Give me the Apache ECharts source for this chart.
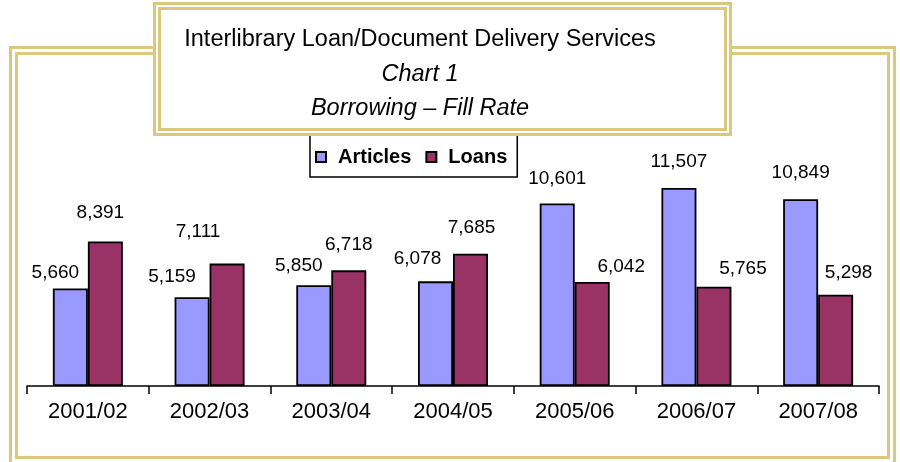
<!DOCTYPE html>
<html>
<head>
<meta charset="utf-8">
<script src="https://cdn.jsdelivr.net/npm/echarts@6/dist/echarts.min.js"></script>
<style>
  html, body { margin: 0; padding: 0; background: #fff; }
  #main { width: 900px; height: 462px; }
</style>
</head>
<body>
<div id="main"></div>
<script>
const years = ["2001/02", "2002/03", "2003/04", "2004/05", "2005/06", "2006/07", "2007/08"];
const articles = [5660, 5159, 5850, 6078, 10601, 11507, 10849];
const loans = [8391, 7111, 6718, 7685, 6042, 5765, 5298];

// the original labels were dragged around by hand, so nudge each one
const articlesNudge = [[-15, -6], [-20, -10], [-15, -10], [-18, -13], [0, -15], [0, -16], [0, -16]];
const loansNudge = [[-5, -19], [-29, -22], [0, -16], [1, -16], [29, -5], [29, -8], [13, -12]];

const gold = "#DCC87C";
const font = "'Liberation Sans', Arial, sans-serif";

const chart = echarts.init(document.getElementById("main"));

const withLabels = (values, nudge) =>
  values.map((v, i) => ({ value: v, label: { offset: nudge[i] } }));

const barLabel = {
  show: true,
  position: "top",
  distance: 0,
  color: "#000",
  fontSize: 19,
  lineHeight: 20,
  fontFamily: font,
  formatter: (p) => p.value.toLocaleString("en-US"),
};

const option = {
  backgroundColor: "#fff",
  animation: false,
  title: {
    text: "{a|Interlibrary Loan/Document Delivery Services}\n{b|Chart 1}\n{b|Borrowing – Fill Rate}",
    left: 420,
    top: 23,
    textAlign: "center",
    padding: 0,
    z: 6,
    textStyle: {
      fontWeight: "normal",
      rich: {
        a: { fontSize: 23.5, fontFamily: font, fontWeight: "normal", color: "#000", lineHeight: 34, align: "center" },
        b: { fontSize: 23.5, fontFamily: font, fontWeight: "normal", fontStyle: "italic", color: "#000", lineHeight: 34, align: "center" },
      },
    },
  },
  legend: {
    data: ["Articles", "Loans"],
    left: 310,
    top: 135,
    padding: [12, 10, 10, 5],
    itemGap: 14,
    itemWidth: 10,
    itemHeight: 10,
    icon: "rect",
    selectedMode: false,
    borderColor: "#000",
    borderWidth: 1.5,
    backgroundColor: "#fff",
    z: 4,
    textStyle: {
      fontSize: 20,
      fontWeight: "bold",
      fontFamily: font,
      color: "#000",
      lineHeight: 20,
      padding: [0, 0, 0, 7],
    },
  },
  grid: {
    left: 27,
    right: 21,
    top: 145,
    bottom: 76,
    containLabel: false,
    outerBoundsMode: "none",
  },
  xAxis: {
    type: "category",
    data: years,
    axisLine: { lineStyle: { color: "#000", width: 1.5 } },
    axisTick: { show: true, alignWithLabel: false, interval: 0, length: 8, lineStyle: { color: "#000", width: 1.5 } },
    axisLabel: { color: "#000", fontSize: 22, fontFamily: font, margin: 15 },
  },
  yAxis: {
    type: "value",
    min: 0,
    max: 14000,
    show: false,
  },
  series: [
    {
      name: "Articles",
      type: "bar",
      barWidth: 35,
      barGap: "0%",
      itemStyle: { color: "#9999FF", borderColor: "#000", borderWidth: 1.8 },
      label: barLabel,
      data: withLabels(articles, articlesNudge),
    },
    {
      name: "Loans",
      type: "bar",
      barWidth: 35,
      barGap: "0%",
      itemStyle: { color: "#993366", borderColor: "#000", borderWidth: 1.8 },
      label: barLabel,
      data: withLabels(loans, loansNudge),
    },
  ],
  graphic: [
    // outer double frame
    { type: "rect", z: 0, shape: { x: 10.5, y: 47.5, width: 884, height: 420 },
      style: { fill: null, stroke: gold, lineWidth: 3 } },
    { type: "rect", z: 0, shape: { x: 16.5, y: 53.5, width: 872, height: 404 },
      style: { fill: null, stroke: gold, lineWidth: 3 } },
    // title box sits over the frame and the legend's top edge
    { type: "rect", z: 5, shape: { x: 154.5, y: 3.5, width: 576, height: 131 },
      style: { fill: "#fff", stroke: gold, lineWidth: 3 } },
    { type: "rect", z: 5, shape: { x: 159.5, y: 8.5, width: 566, height: 121 },
      style: { fill: null, stroke: gold, lineWidth: 3 } },
  ],
};

chart.setOption(option);
</script>
</body>
</html>
